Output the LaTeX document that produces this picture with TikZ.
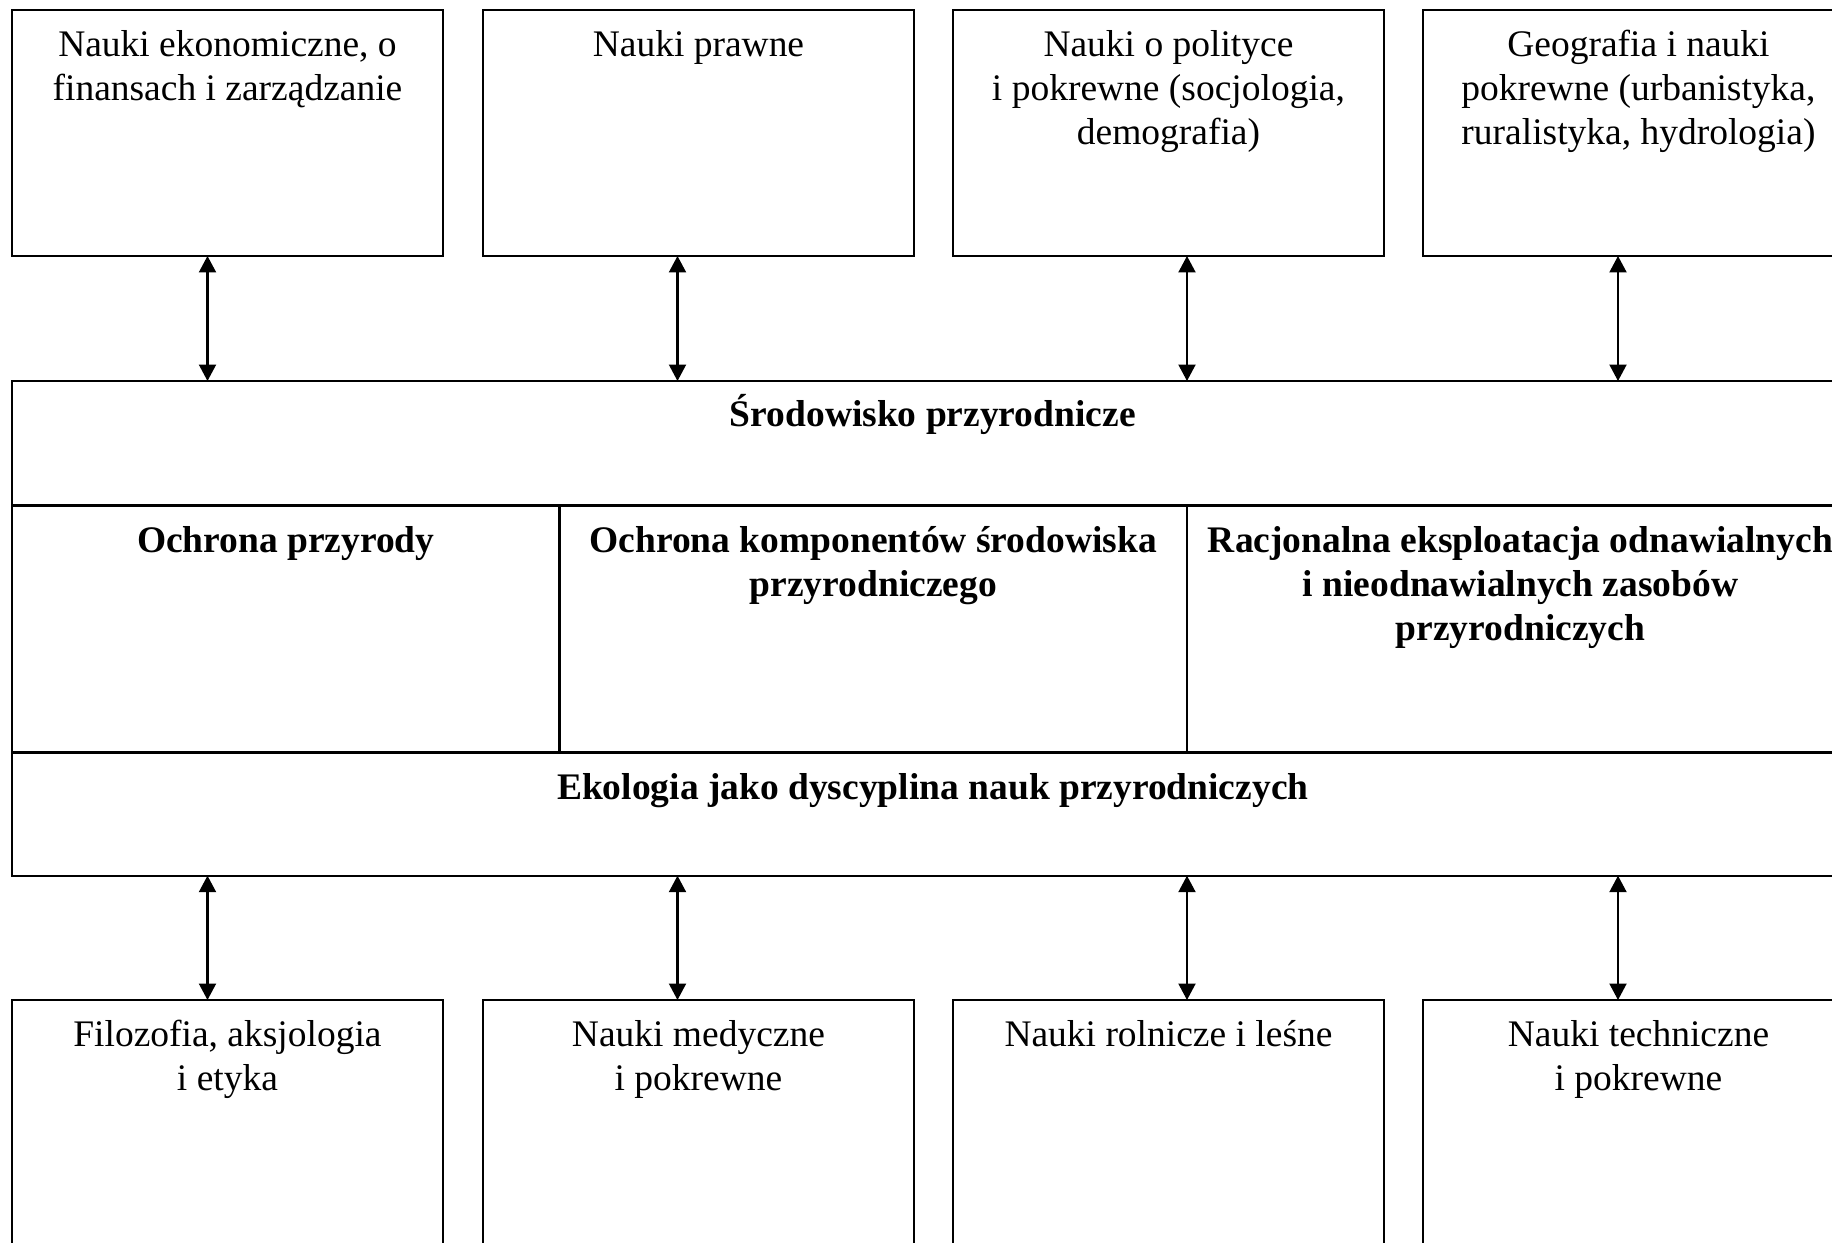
\documentclass[tikz,border=0pt]{standalone}
\usepackage{fontspec}
\setmainfont{Liberation Serif}
\usetikzlibrary{arrows.meta,positioning}

\begin{document}
\begin{tikzpicture}
[x=0.02cm, y=-0.02cm,
box/.style={rectangle, draw=black, line width=1.3pt, anchor=north west, inner sep=0pt, outer sep=0pt, minimum width=8.62cm},
cell/.style={rectangle, draw=black, line width=1.3pt, anchor=north west, inner sep=0pt, outer sep=0pt},
txt/.style={inner sep=0pt, anchor=north, align=center, font=\fontsize{21.34pt}{25.04pt}\selectfont},
head/.style={txt, font=\fontsize{21.34pt}{25.04pt}\selectfont\bfseries},
link/.style={line width=1.2pt, <->, >={Triangle[length=0.33cm,width=0.34cm]}}]
\useasboundingbox (0,0) rectangle (1832,1242);

% first row
\node[box, minimum height=4.92cm] (ekon) at (12,10) {};
\node[box, minimum height=4.92cm] (praw) at (483,10) {};
\node[box, minimum height=4.92cm] (poli) at (953,10) {};
\node[box, minimum height=4.92cm] (geog) at (1423,10) {};

\node[txt, below=0.31cm of ekon.north] (ekon t) {\strut Nauki ekonomiczne, o\\finansach i zarządzanie};
\node[txt, below=0.31cm of praw.north] (praw t) {\strut Nauki prawne};
\node[txt, below=0.31cm of poli.north] (poli t) {\strut Nauki o polityce\\i pokrewne (socjologia,\\demografia)};
\node[txt, below=0.31cm of geog.north] (geog t) {\strut Geografia i nauki\\pokrewne (urbanistyka,\\ruralistyka, hydrologia)};

% middle block
\node[cell, minimum width=36.84cm, minimum height=2.49cm] (srod) at (12,381) {};
\node[cell, minimum width=10.954cm, minimum height=4.94cm] (ochr) at (12,505.5) {};
\node[cell, minimum width=12.546cm, minimum height=4.94cm] (komp) at (559.7,505.5) {};
\node[cell, minimum width=13.34cm, minimum height=4.94cm] (racj) at (1187,505.5) {};
\node[cell, minimum width=36.84cm, minimum height=2.464cm] (ekol) at (12,752.5) {};

\node[head, below=0.25cm of srod.north] (srod t) {\strut Środowisko przyrodnicze};
\node[head, below=0.31cm of ochr.north] (ochr t) {\strut Ochrona przyrody};
\node[head, below=0.31cm of komp.north] (komp t) {\strut Ochrona komponentów środowiska\\przyrodniczego};
\node[head, below=0.31cm of racj.north] (racj t) {\strut Racjonalna eksploatacja odnawialnych\\i nieodnawialnych zasobów\\przyrodniczych};
\node[head, below=0.31cm of ekol.north] (ekol t) {\strut Ekologia jako dyscyplina nauk przyrodniczych};

% last row
\node[box, minimum height=5.4cm] (filo) at (12,1000) {};
\node[box, minimum height=5.4cm] (medy) at (483,1000) {};
\node[box, minimum height=5.4cm] (roln) at (953,1000) {};
\node[box, minimum height=5.4cm] (tech) at (1423,1000) {};

\node[txt, below=0.31cm of filo.north] (filo t) {\strut Filozofia, aksjologia\\i etyka};
\node[txt, below=0.31cm of medy.north] (medy t) {\strut Nauki medyczne\\i pokrewne};
\node[txt, below=0.31cm of roln.north] (roln t) {\strut Nauki rolnicze i leśne};
\node[txt, below=0.31cm of tech.north] (tech t) {\strut Nauki techniczne\\i pokrewne};

% arrows
\coordinate (c1) at (207.5,0);
\coordinate (c2) at (677.5,0);
\coordinate (c3) at (1187,0);
\coordinate (c4) at (1618,0);

\draw[link] (ekon.south -| c1) -- (srod.north -| c1);
\draw[link] (praw.south -| c2) -- (srod.north -| c2);
\draw[link] (poli.south -| c3) -- (srod.north -| c3);
\draw[link] (geog.south -| c4) -- (srod.north -| c4);

\draw[link] (ekol.south -| c1) -- (filo.north -| c1);
\draw[link] (ekol.south -| c2) -- (medy.north -| c2);
\draw[link] (ekol.south -| c3) -- (roln.north -| c3);
\draw[link] (ekol.south -| c4) -- (tech.north -| c4);

\end{tikzpicture}
\end{document}
